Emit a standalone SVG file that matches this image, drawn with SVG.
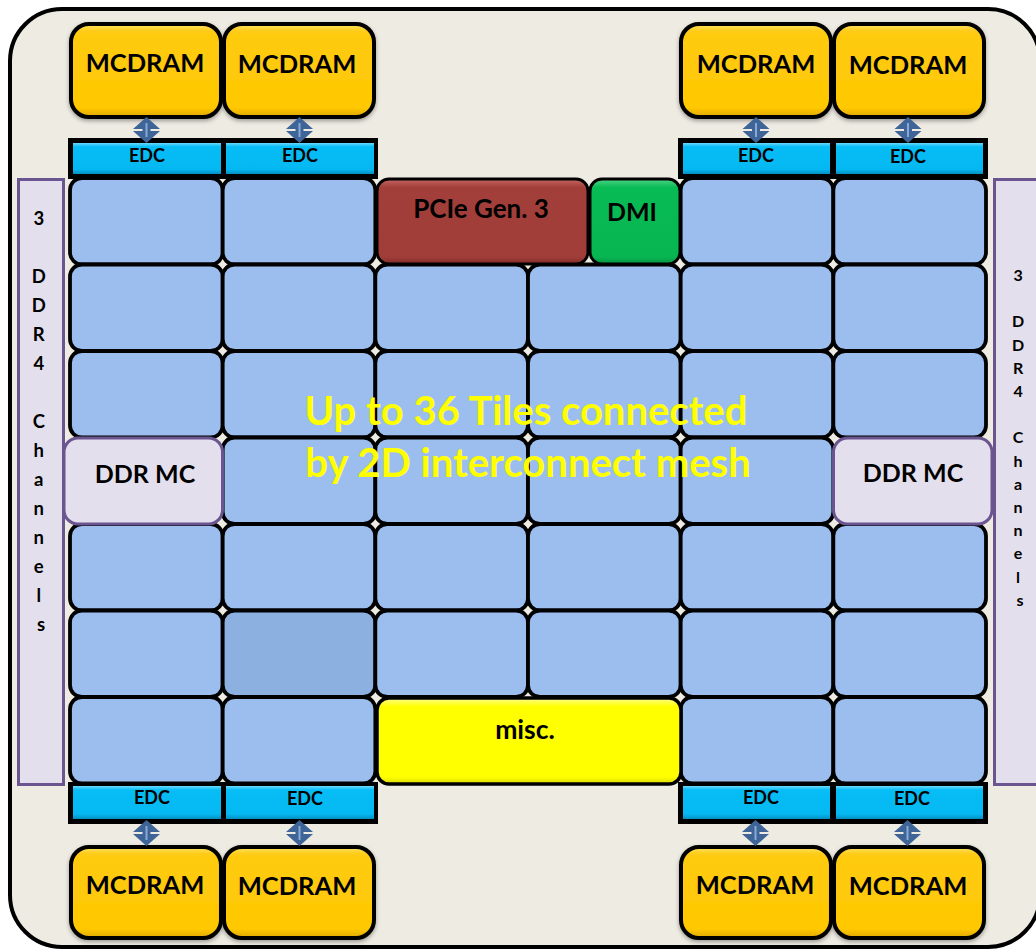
<svg xmlns="http://www.w3.org/2000/svg" width="1036" height="952" viewBox="0 0 1036 952">
<style>
text{font-family:Lato,"Liberation Sans",sans-serif;font-weight:bold;fill:#000;text-anchor:middle}
.tile{fill:#9BBEEF;stroke:#000;stroke-width:3.8}
.tile.dk{fill:#8CB0E0}
.mc{fill:url(#gMc);stroke:#000;stroke-width:4;filter:url(#sh)}
.edcbg{fill:#000}
.edc{fill:url(#gEdc)}
.ddr{fill:#E4DFEC;stroke:#6A5590;stroke-width:3}
.arr{fill:#3F6497}
.arrl{stroke:#86A9D6;stroke-width:2}
.mcdram{font-size:25.5px}
.edct{font-size:18px}
.big{font-size:40px;fill:#FFFF00}
</style>
<defs>
<linearGradient id="gMc" x1="0" y1="0" x2="0" y2="1">
<stop offset="0" stop-color="#FFE36A"/>
<stop offset="0.08" stop-color="#FFCB12"/>
<stop offset="0.9" stop-color="#FFC800"/>
<stop offset="1" stop-color="#E0A800"/>
</linearGradient>
<linearGradient id="gEdc" x1="0" y1="0" x2="0" y2="1">
<stop offset="0" stop-color="#6AD8FB"/>
<stop offset="0.12" stop-color="#07BDF6"/>
<stop offset="0.85" stop-color="#05B8F2"/>
<stop offset="1" stop-color="#0390C0"/>
</linearGradient>
<linearGradient id="gPcie" x1="0" y1="0" x2="0" y2="1">
<stop offset="0" stop-color="#C56562"/>
<stop offset="0.1" stop-color="#A33F3B"/>
<stop offset="0.92" stop-color="#A03D39"/>
<stop offset="1" stop-color="#7E2C29"/>
</linearGradient>
<linearGradient id="gDmi" x1="0" y1="0" x2="0" y2="1">
<stop offset="0" stop-color="#4FD487"/>
<stop offset="0.1" stop-color="#08BB55"/>
<stop offset="0.92" stop-color="#07B651"/>
<stop offset="1" stop-color="#05903F"/>
</linearGradient>
<linearGradient id="gMisc" x1="0" y1="0" x2="0" y2="1">
<stop offset="0" stop-color="#FFFF90"/>
<stop offset="0.1" stop-color="#FFFF00"/>
<stop offset="0.92" stop-color="#FFFF00"/>
<stop offset="1" stop-color="#D8D800"/>
</linearGradient>
<filter id="sh" x="-10%" y="-10%" width="120%" height="130%">
<feDropShadow dx="0" dy="2" stdDeviation="2" flood-color="#000" flood-opacity="0.35"/>
</filter>
<g id="arrow">
<polygon class="arr" points="0,-13 13.5,-1 -13.5,-1"/>
<polygon class="arr" points="-13.5,1 13.5,1 0,13"/>
<rect class="arr" x="-4" y="-3" width="8" height="6"/>
<line class="arrl" x1="0" y1="-7" x2="0" y2="7"/>
</g>
</defs>

<g id="frame">
<rect x="10" y="9" width="1030" height="938" rx="52" fill="#EEEBE2" stroke="#000" stroke-width="4"/>
</g>

<g id="ddr-left">
<rect class="ddr" x="18.5" y="179.5" width="45" height="605"/>
<text font-size="18.5px">
<tspan x="41" y="224.5">3</tspan>
<tspan x="41" y="282.6">D</tspan>
<tspan x="41" y="311.7">D</tspan>
<tspan x="41" y="340.7">R</tspan>
<tspan x="41" y="369.8">4</tspan>
<tspan x="41" y="427.9">C</tspan>
<tspan x="41" y="456.9">h</tspan>
<tspan x="41" y="486">a</tspan>
<tspan x="41" y="515">n</tspan>
<tspan x="41" y="544.1">n</tspan>
<tspan x="41" y="573.1">e</tspan>
<tspan x="41" y="602.2">l</tspan>
<tspan x="41" y="631.2">s</tspan>
</text>
</g>
<g id="ddr-right">
<rect class="ddr" x="994.5" y="179.5" width="46" height="605"/>
<text font-size="16px">
<tspan x="1020" y="281">3</tspan>
<tspan x="1020" y="327.4">D</tspan>
<tspan x="1020" y="350.6">D</tspan>
<tspan x="1020" y="373.8">R</tspan>
<tspan x="1020" y="397">4</tspan>
<tspan x="1020" y="443.4">C</tspan>
<tspan x="1020" y="466.6">h</tspan>
<tspan x="1020" y="489.8">a</tspan>
<tspan x="1020" y="513">n</tspan>
<tspan x="1020" y="536.2">n</tspan>
<tspan x="1020" y="559.4">e</tspan>
<tspan x="1020" y="582.6">l</tspan>
<tspan x="1020" y="605.8">s</tspan>
</text>
</g>

<g id="mcdram-tl1"><rect class="mc" x="71" y="24" width="150" height="93" rx="18"/><text class="mcdram" x="145" y="72">MCDRAM</text></g>
<g id="mcdram-tl2"><rect class="mc" x="224" y="24" width="150" height="93" rx="18"/><text class="mcdram" x="297" y="73">MCDRAM</text></g>
<g id="mcdram-tr1"><rect class="mc" x="681" y="24" width="150" height="93" rx="18"/><text class="mcdram" x="756" y="73">MCDRAM</text></g>
<g id="mcdram-tr2"><rect class="mc" x="834" y="24" width="150" height="93" rx="18"/><text class="mcdram" x="908" y="74">MCDRAM</text></g>
<g id="mcdram-bl1"><rect class="mc" x="71" y="847" width="150" height="91" rx="18"/><text class="mcdram" x="145" y="894">MCDRAM</text></g>
<g id="mcdram-bl2"><rect class="mc" x="224" y="847" width="150" height="91" rx="18"/><text class="mcdram" x="297" y="895">MCDRAM</text></g>
<g id="mcdram-br1"><rect class="mc" x="681" y="847" width="150" height="91" rx="18"/><text class="mcdram" x="755" y="894">MCDRAM</text></g>
<g id="mcdram-br2"><rect class="mc" x="834" y="847" width="150" height="91" rx="18"/><text class="mcdram" x="908" y="895">MCDRAM</text></g>

<g id="edc-top-left">
<rect class="edcbg" x="68" y="138" width="310" height="41"/>
<rect class="edc" x="73" y="143" width="148" height="31"/>
<rect class="edc" x="226" y="143" width="148" height="31"/>
<text class="edct" x="147" y="162">EDC</text>
<text class="edct" x="300" y="162">EDC</text>
</g>
<g id="edc-top-right">
<rect class="edcbg" x="678" y="138" width="310" height="41"/>
<rect class="edc" x="683" y="143" width="147" height="31"/>
<rect class="edc" x="836" y="143" width="147" height="31"/>
<text class="edct" x="756" y="162">EDC</text>
<text class="edct" x="908" y="163">EDC</text>
</g>
<g id="edc-bottom-left">
<rect class="edcbg" x="68" y="782" width="310" height="42"/>
<rect class="edc" x="73" y="786" width="148" height="33"/>
<rect class="edc" x="226" y="786" width="148" height="33"/>
<text class="edct" x="152" y="804">EDC</text>
<text class="edct" x="305" y="805">EDC</text>
</g>
<g id="edc-bottom-right">
<rect class="edcbg" x="678" y="782" width="310" height="42"/>
<rect class="edc" x="683" y="786" width="147" height="33"/>
<rect class="edc" x="836" y="786" width="147" height="33"/>
<text class="edct" x="761" y="804">EDC</text>
<text class="edct" x="912" y="805">EDC</text>
</g>

<g id="tiles">
<g id="tile-r1-c1"><rect class="tile" x="70" y="178" width="152.67" height="86.5" rx="12"/></g>
<g id="tile-r1-c2"><rect class="tile" x="222.67" y="178" width="152.67" height="86.5" rx="12"/></g>
<g id="tile-r1-c5"><rect class="tile" x="680.67" y="178" width="152.67" height="86.5" rx="12"/></g>
<g id="tile-r1-c6"><rect class="tile" x="833.33" y="178" width="152.67" height="86.5" rx="12"/></g>

<g id="tile-r2-c1"><rect class="tile" x="70" y="264.5" width="152.67" height="86.5" rx="12"/></g>
<g id="tile-r2-c2"><rect class="tile" x="222.67" y="264.5" width="152.67" height="86.5" rx="12"/></g>
<g id="tile-r2-c3"><rect class="tile" x="375.33" y="264.5" width="152.67" height="86.5" rx="12"/></g>
<g id="tile-r2-c4"><rect class="tile" x="528" y="264.5" width="152.67" height="86.5" rx="12"/></g>
<g id="tile-r2-c5"><rect class="tile" x="680.67" y="264.5" width="152.67" height="86.5" rx="12"/></g>
<g id="tile-r2-c6"><rect class="tile" x="833.33" y="264.5" width="152.67" height="86.5" rx="12"/></g>

<g id="tile-r3-c1"><rect class="tile" x="70" y="351" width="152.67" height="86.5" rx="12"/></g>
<g id="tile-r3-c2"><rect class="tile" x="222.67" y="351" width="152.67" height="86.5" rx="12"/></g>
<g id="tile-r3-c3"><rect class="tile" x="375.33" y="351" width="152.67" height="86.5" rx="12"/></g>
<g id="tile-r3-c4"><rect class="tile" x="528" y="351" width="152.67" height="86.5" rx="12"/></g>
<g id="tile-r3-c5"><rect class="tile" x="680.67" y="351" width="152.67" height="86.5" rx="12"/></g>
<g id="tile-r3-c6"><rect class="tile" x="833.33" y="351" width="152.67" height="86.5" rx="12"/></g>

<g id="tile-r4-c2"><rect class="tile" x="222.67" y="437.5" width="152.67" height="86.5" rx="12"/></g>
<g id="tile-r4-c3"><rect class="tile" x="375.33" y="437.5" width="152.67" height="86.5" rx="12"/></g>
<g id="tile-r4-c4"><rect class="tile" x="528" y="437.5" width="152.67" height="86.5" rx="12"/></g>
<g id="tile-r4-c5"><rect class="tile" x="680.67" y="437.5" width="152.67" height="86.5" rx="12"/></g>

<g id="tile-r5-c1"><rect class="tile" x="70" y="524" width="152.67" height="86.5" rx="12"/></g>
<g id="tile-r5-c2"><rect class="tile" x="222.67" y="524" width="152.67" height="86.5" rx="12"/></g>
<g id="tile-r5-c3"><rect class="tile" x="375.33" y="524" width="152.67" height="86.5" rx="12"/></g>
<g id="tile-r5-c4"><rect class="tile" x="528" y="524" width="152.67" height="86.5" rx="12"/></g>
<g id="tile-r5-c5"><rect class="tile" x="680.67" y="524" width="152.67" height="86.5" rx="12"/></g>
<g id="tile-r5-c6"><rect class="tile" x="833.33" y="524" width="152.67" height="86.5" rx="12"/></g>

<g id="tile-r6-c1"><rect class="tile" x="70" y="610.5" width="152.67" height="86.5" rx="12"/></g>
<g id="tile-r6-c2"><rect class="tile dk" x="222.67" y="610.5" width="152.67" height="86.5" rx="12"/></g>
<g id="tile-r6-c3"><rect class="tile" x="375.33" y="610.5" width="152.67" height="86.5" rx="12"/></g>
<g id="tile-r6-c4"><rect class="tile" x="528" y="610.5" width="152.67" height="86.5" rx="12"/></g>
<g id="tile-r6-c5"><rect class="tile" x="680.67" y="610.5" width="152.67" height="86.5" rx="12"/></g>
<g id="tile-r6-c6"><rect class="tile" x="833.33" y="610.5" width="152.67" height="86.5" rx="12"/></g>

<g id="tile-r7-c1"><rect class="tile" x="70" y="697" width="152.67" height="86.5" rx="12"/></g>
<g id="tile-r7-c2"><rect class="tile" x="222.67" y="697" width="152.67" height="86.5" rx="12"/></g>
<g id="tile-r7-c5"><rect class="tile" x="680.67" y="697" width="152.67" height="86.5" rx="12"/></g>
<g id="tile-r7-c6"><rect class="tile" x="833.33" y="697" width="152.67" height="86.5" rx="12"/></g>
</g>

<g id="pcie"><rect x="377" y="179" width="211" height="85" rx="12" fill="url(#gPcie)" stroke="#000" stroke-width="3"/><text font-size="26px" x="481" y="218">PCIe Gen. 3</text></g>
<g id="dmi"><rect x="590" y="179" width="90" height="85" rx="12" fill="url(#gDmi)" stroke="#000" stroke-width="3"/><text font-size="25px" x="632" y="221">DMI</text></g>
<g id="misc"><rect x="377" y="698" width="304" height="86" rx="12" fill="url(#gMisc)" stroke="#000" stroke-width="3.5"/><text font-size="26.5px" x="525" y="739">misc.</text></g>

<g id="ddr-mc-left"><rect class="ddr" x="64" y="438" width="158.5" height="86" rx="14"/><text font-size="25px" x="145" y="483">DDR MC</text></g>
<g id="ddr-mc-right"><rect class="ddr" x="833.5" y="438" width="158.5" height="86" rx="14"/><text font-size="25px" x="913" y="482">DDR MC</text></g>

<g id="mesh-label">
<text class="big" x="526" y="425">Up to 36 Tiles connected</text>
<text class="big" x="528" y="477">by 2D interconnect mesh</text>
</g>

<g id="connectors">
<use href="#arrow" x="146.5" y="130"/>
<use href="#arrow" x="299.5" y="130"/>
<use href="#arrow" x="756" y="130"/>
<use href="#arrow" x="908" y="130"/>
<use href="#arrow" x="146.5" y="833"/>
<use href="#arrow" x="299.5" y="833"/>
<use href="#arrow" x="755.5" y="833"/>
<use href="#arrow" x="907.5" y="833"/>
</g>
</svg>
